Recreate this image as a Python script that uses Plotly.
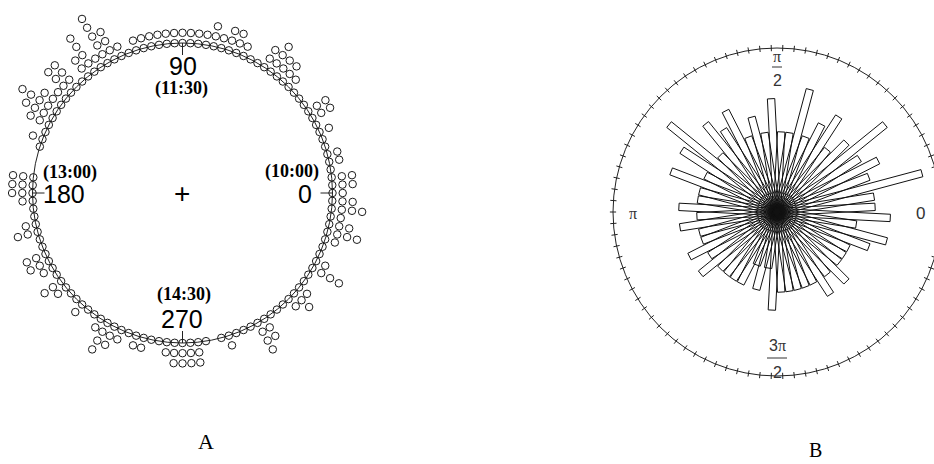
import numpy as np
import plotly.graph_objects as go

W, H = 934, 464

# ---- Panel A: circular dot plot (3-degree bins, 1 degree = 1 minute, 0 = 10:00) ----
dot_angles_deg = list(range(0, 360, 3))
dot_counts = [
    2, 3, 3, 1, 2, 2, 1, 1, 2, 1,   # 0-27
    3, 3, 1, 1, 1, 2, 3, 3, 4, 3,   # 30-57
    1, 1, 2, 3, 3, 2, 3, 2, 2, 2,   # 60-87
    2, 2, 2, 2, 2, 2, 2, 1, 2, 4,   # 90-117
    6, 2, 5, 3, 1, 4, 4, 2, 3, 5,   # 120-147
    4, 3, 1, 2, 1, 0, 0, 0, 3, 3,   # 150-177
    3, 2, 1, 1, 2, 3, 1, 1, 3, 3,   # 180-207
    2, 1, 3, 2, 1, 1, 2, 1, 1, 2,   # 210-237
    4, 3, 2, 1, 2, 2, 1, 1, 2, 3,   # 240-267
    3, 3, 3, 1, 0, 1, 2, 1, 1, 1,   # 270-297
    4, 3, 1, 1, 1, 2, 3, 2, 1, 1,   # 300-327
    4, 2, 1, 1, 2, 5, 3, 2, 5, 3,   # 330-357
]
axis_angles_deg = [0, 90, 180, 270]
axis_labels = ["0", "90", "180", "270"]
time_labels = ["(10:00)", "(11:30)", "(13:00)", "(14:30)"]

# ---- Panel B: rose diagram (6-degree bins, bar length proportional to sqrt(count)) ----
rose_angles_deg = [3 + 6 * k for k in range(60)]
rose_counts = [
    3, 3, 7, 3, 4, 3, 6, 3, 2, 4, 3, 2, 5, 2, 2,   # 0-90
    4, 2, 3, 2, 4, 3, 4, 2, 6, 4, 2, 4, 2, 2, 3,   # 90-180
    2, 3, 2, 2, 3, 2, 3, 2, 2, 2, 2, 1, 2, 1, 3,   # 180-270
    2, 2, 2, 2, 2, 3, 2, 3, 2, 2, 2, 3, 4, 2, 4,   # 270-360
]
rose_tick_step_deg = 4

# ---- geometry (pixels) ----
A_CX, A_CY, A_R = 182.5, 193.0, 150.0      # dot-plot circle centre / radius
A_STEP = 0.068                             # radial spacing of stacked dots (circle radius = 1)
B_CX, B_CY, B_U = 777.0, 212.0, 56.7       # rose centre, pixels per sqrt(count)
B_RING = 164.0 / B_U                       # outer ring radius
BAR_W = 0.13                               # bar width in sqrt(count) units


def px(x, y):
    return x / W, 1 - y / H


fig = go.Figure()

# Panel A dots
xs, ys = [], []
for a, n in zip(dot_angles_deg, dot_counts):
    t = np.deg2rad(a)
    for k in range(n):
        r = 1 + k * A_STEP
        xs.append(r * np.cos(t))
        ys.append(r * np.sin(t))
fig.add_trace(go.Scatter(
    x=xs, y=ys, mode="markers", xaxis="x", yaxis="y", cliponaxis=False,
    marker=dict(symbol="circle-open", size=7.5, color="#1a1a1a", line=dict(width=1, color="#1a1a1a")),
    hoverinfo="skip", showlegend=False))

# Panel A axis ticks (inward)
tx, ty = [], []
for a in axis_angles_deg:
    t = np.deg2rad(a)
    tx += [0.92 * np.cos(t), np.cos(t), None]
    ty += [0.92 * np.sin(t), np.sin(t), None]
fig.add_trace(go.Scatter(x=tx, y=ty, mode="lines", xaxis="x", yaxis="y",
                         line=dict(color="#222", width=1), hoverinfo="skip", showlegend=False))

# Panel B bars (outlined rectangles from the centre)
bx, by = [], []
for a, n in zip(rose_angles_deg, rose_counts):
    t = np.deg2rad(a)
    L = np.sqrt(n)
    d = np.array([np.cos(t), np.sin(t)])
    p = np.array([-np.sin(t), np.cos(t)]) * BAR_W / 2
    pts = [p, L * d + p, L * d - p, -p, p]
    bx += [q[0] for q in pts] + [None]
    by += [q[1] for q in pts] + [None]
fig.add_trace(go.Scatter(x=bx, y=by, mode="lines", xaxis="x2", yaxis="y2",
                         line=dict(color="#111", width=1), hoverinfo="skip", showlegend=False))

# Panel B ring ticks (crossing the ring)
rx, ry = [], []
for a in range(0, 360, rose_tick_step_deg):
    t = np.deg2rad(a)
    rx += [(B_RING - 0.055) * np.cos(t), (B_RING + 0.055) * np.cos(t), None]
    ry += [(B_RING - 0.055) * np.sin(t), (B_RING + 0.055) * np.sin(t), None]
fig.add_trace(go.Scatter(x=rx, y=ry, mode="lines", xaxis="x2", yaxis="y2",
                         line=dict(color="#222", width=1), hoverinfo="skip", showlegend=False))

shapes = [
    dict(type="circle", xref="x", yref="y", x0=-1, y0=-1, x1=1, y1=1,
         line=dict(color="#222", width=1), layer="below"),
    dict(type="circle", xref="x2", yref="y2", x0=-B_RING, y0=-B_RING, x1=B_RING, y1=B_RING,
         line=dict(color="#222", width=1), layer="below"),
]
# fraction bars of the pi/2 and 3pi/2 labels
for (x0, x1, yy) in [(772, 782, 67), (767, 787, 358)]:
    p0, p1 = px(x0, yy), px(x1, yy)
    shapes.append(dict(type="line", xref="paper", yref="paper", x0=p0[0], y0=p0[1], x1=p1[0], y1=p1[1],
                       line=dict(color="#333", width=1)))

SANS = "Liberation Sans, Arial, sans-serif"
SERIF = "Liberation Serif, Times New Roman, serif"
ann = []


def label(text, x, y, size, family, color="#000", bold=False):
    xp, yp = px(x, y)
    if bold:
        text = "<b>" + text + "</b>"
    ann.append(dict(text=text, x=xp, y=yp, xref="paper", yref="paper", showarrow=False,
                    xanchor="center", yanchor="middle", font=dict(size=size, family=family, color=color)))


# Panel A labels
label(axis_labels[0], 305, 194, 25, SANS)
label(axis_labels[1], 183, 66, 25, SANS)
label(axis_labels[2], 64, 194, 25, SANS)
label(axis_labels[3], 182, 319, 25, SANS)
label(time_labels[0], 292, 171, 18, SERIF, bold=True)
label(time_labels[1], 181, 89, 18, SERIF, bold=True)
label(time_labels[2], 70, 172, 18, SERIF, bold=True)
label(time_labels[3], 184, 294, 18, SERIF, bold=True)
label("+", 182, 193, 28, SANS)
label("A", 206, 441, 22, SERIF)

# Panel B labels
label("π", 777, 56, 16, SERIF, color="#333")
label("2", 777, 81, 16, SANS, color="#333")
label("π", 633, 213, 16, SERIF, color="#333")
label("0", 920, 213, 17, SANS, color="#333")
label("3<span style='font-family:Liberation Serif'>π</span>", 777, 345, 16, SANS, color="#333")
label("2", 777, 372, 16, SANS, color="#333")
label("B", 815, 450, 20, SERIF)

hidden = dict(visible=False, showgrid=False, zeroline=False, fixedrange=True)
fig.update_layout(
    width=W, height=H, autosize=False,
    margin=dict(l=0, r=0, t=0, b=0),
    paper_bgcolor="white", plot_bgcolor="white",
    xaxis=dict(domain=[0, 365 / W], range=[-A_CX / A_R, (365 - A_CX) / A_R], anchor="y", **hidden),
    yaxis=dict(domain=[0, 1], range=[-(H - A_CY) / A_R, A_CY / A_R], anchor="x", **hidden),
    xaxis2=dict(domain=[600 / W, 1], range=[(600 - B_CX) / B_U, (W - B_CX) / B_U], anchor="y2", **hidden),
    yaxis2=dict(domain=[0, 1], range=[-(H - B_CY) / B_U, B_CY / B_U], anchor="x2", **hidden),
    shapes=shapes, annotations=ann, showlegend=False,
)

fig.write_html("out.html")
